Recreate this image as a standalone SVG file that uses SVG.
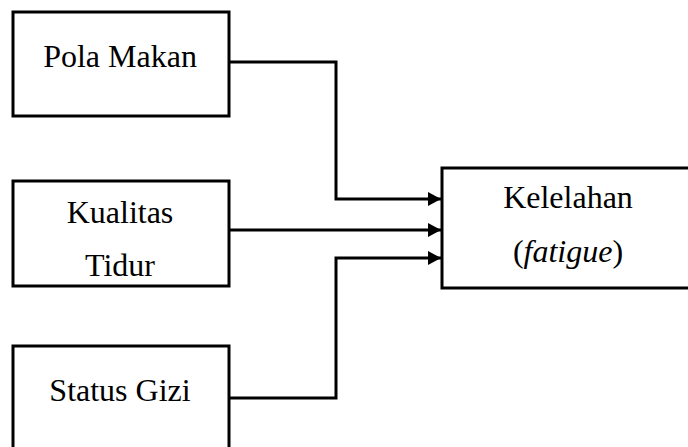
<svg xmlns="http://www.w3.org/2000/svg" width="688" height="447" viewBox="0 0 688 447">
<style>
.box{fill:#fff;stroke:#000;stroke-width:3}
.t{font-family:"Liberation Serif","Times New Roman",serif;font-size:32px;fill:#000;text-anchor:middle}
.c{fill:none;stroke:#000;stroke-width:3}
</style>
<defs>
<marker id="ah" markerWidth="13" markerHeight="14" refX="13" refY="7" orient="auto" markerUnits="userSpaceOnUse">
<path d="M0,0 L13,7 L0,14 Z" fill="#000"/>
</marker>
</defs>
<rect width="688" height="447" fill="#fff"/>
<g id="pola-makan">
<rect class="box" x="13" y="12" width="216" height="104"/>
<text class="t" x="120" y="67">Pola Makan</text>
</g>
<g id="kualitas-tidur">
<rect class="box" x="13" y="181" width="216" height="105"/>
<text class="t" x="120" y="223">Kualitas</text>
<text class="t" x="120" y="276">Tidur</text>
</g>
<g id="status-gizi">
<rect class="box" x="13" y="346" width="216" height="110"/>
<text class="t" x="120" y="401">Status Gizi</text>
</g>
<g id="kelelahan">
<rect class="box" x="442" y="168" width="260" height="120"/>
<text class="t" x="568" y="208">Kelelahan</text>
<text class="t" x="568" y="262">(<tspan font-style="italic">fatigue</tspan>)</text>
</g>
<g id="connectors">
<path class="c" d="M229,62 H336 V199 H441" marker-end="url(#ah)"/>
<path class="c" d="M229,230 H441" marker-end="url(#ah)"/>
<path class="c" d="M229,398 H336 V258 H441" marker-end="url(#ah)"/>
</g>
</svg>
